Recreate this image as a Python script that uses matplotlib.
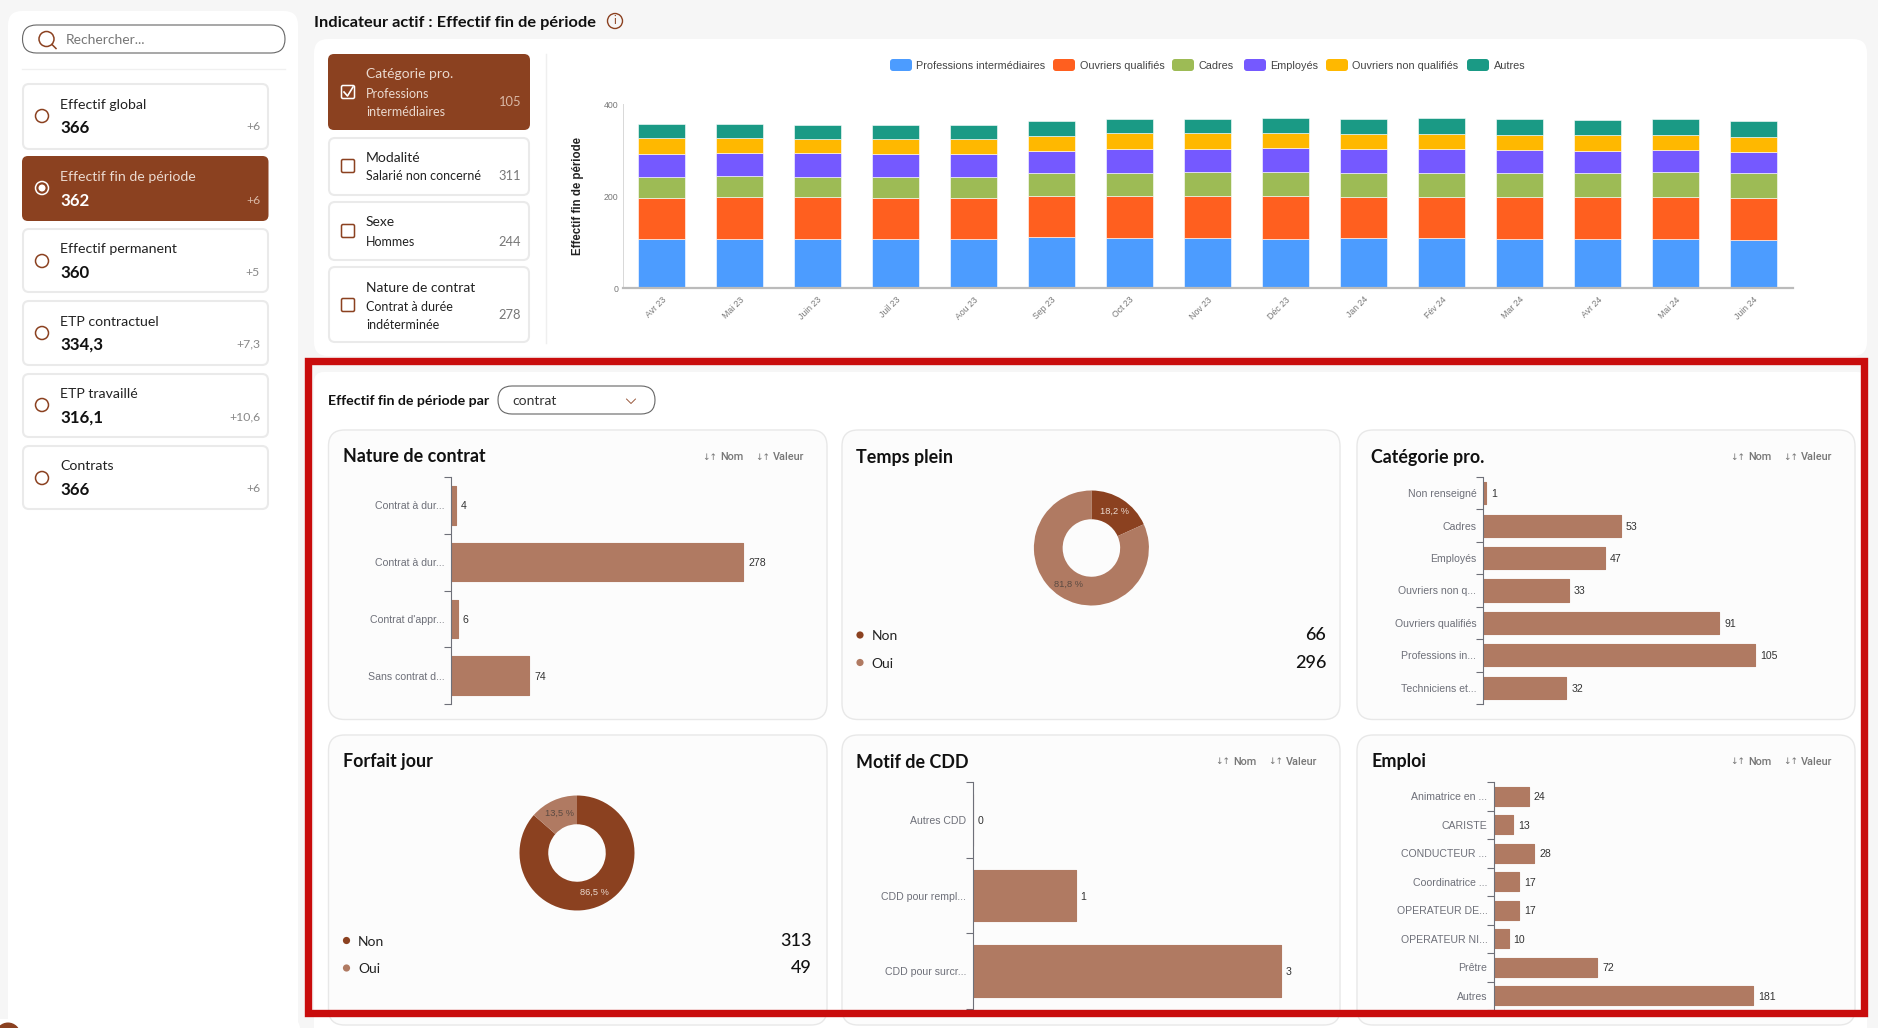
import matplotlib
matplotlib.use("Agg")
import matplotlib.pyplot as plt
from matplotlib.patches import FancyBboxPatch, Circle, Rectangle

W, H = 1878, 1028

BROWN = "#8B4120"
LIGHT_BROWN = "#B07A62"
RED = "#C90D0D"
GRID_TXT = "#6E7079"

# kpi list on the left
kpi_names = ["Effectif global", "Effectif fin de période", "Effectif permanent",
             "ETP contractuel", "ETP travaillé", "Contrats"]
kpi_values = ["366", "362", "360", "334,3", "316,1", "366"]
kpi_deltas = ["+6", "+6", "+5", "+7,3", "+10,6", "+6"]

# stacked chart
months = ["Avr 23", "Mai 23", "Juin 23", "Juil 23", "Aou 23", "Sep 23", "Oct 23", "Nov 23",
          "Déc 23", "Jan 24", "Fév 24", "Mar 24", "Avr 24", "Mai 24", "Juin 24"]
prof_inter = [107, 107, 107, 107, 106, 110, 108, 108, 107, 108, 108, 107, 106, 106, 105]
ouvriers_q = [89, 91, 90, 89, 89, 90, 92, 92, 93, 90, 90, 91, 92, 92, 91]
cadres = [46, 45, 45, 46, 46, 49, 51, 53, 53, 53, 53, 52, 52, 55, 53]
employes = [50, 50, 51, 50, 50, 49, 52, 50, 52, 51, 51, 51, 48, 47, 47]
ouvriers_nq = [34, 34, 32, 32, 33, 33, 33, 34, 32, 33, 33, 31, 34, 32, 33]
autres = [30, 30, 29, 30, 30, 31, 31, 30, 32, 32, 34, 35, 33, 35, 33]
stack_names = ["Professions intermédiaires", "Ouvriers qualifiés", "Cadres", "Employés",
               "Ouvriers non qualifiés", "Autres"]
stack_colors = ["#4C9CFF", "#FF5F1F", "#9DBB55", "#7559FF", "#FFB800", "#1A9A85"]

# small charts
contrat_labels = ["Contrat à dur...", "Contrat à dur...", "Contrat d'appr...", "Sans contrat d..."]
contrat_values = [4, 278, 6, 74]
categorie_labels = ["Non renseigné", "Cadres", "Employés", "Ouvriers non q...",
                    "Ouvriers qualifiés", "Professions in...", "Techniciens et..."]
categorie_values = [1, 53, 47, 33, 91, 105, 32]
cdd_labels = ["Autres CDD", "CDD pour rempl...", "CDD pour surcr..."]
cdd_values = [0, 1, 3]
emploi_labels = ["Animatrice en ...", "CARISTE", "CONDUCTEUR ...", "Coordinatrice ...",
                 "OPERATEUR DE...", "OPERATEUR NI...", "Prêtre", "Autres"]
emploi_values = [24, 13, 28, 17, 17, 10, 72, 181]
temps_plein = [66, 296]
forfait_jour = [313, 49]

fig = plt.figure(figsize=(W / 100, H / 100), dpi=100, facecolor="#F6F6F6")
plt.rcParams["font.family"] = ["Lato", "DejaVu Sans"]

bg = fig.add_axes([0, 0, 1, 1], zorder=0)
bg.set_xlim(0, W)
bg.set_ylim(H, 0)
bg.axis("off")

top = fig.add_axes([0, 0, 1, 1], zorder=20)
top.set_xlim(0, W)
top.set_ylim(H, 0)
top.axis("off")
top.patch.set_alpha(0)


def box(x0, y0, x1, y1, fc="white", ec="none", lw=0, r=8, ax=bg):
    p = FancyBboxPatch((x0 + r, y0 + r), x1 - x0 - 2 * r, y1 - y0 - 2 * r,
                       boxstyle=f"round,pad={r},rounding_size={r}", fc=fc, ec=ec, lw=lw)
    ax.add_patch(p)


def child_axes(x0, y0, x1, y1):
    a = fig.add_axes([x0 / W, 1 - y1 / H, (x1 - x0) / W, (y1 - y0) / H], zorder=5)
    a.patch.set_alpha(0)
    return a


def txt(x, y, s, size=10, color="#222222", weight="normal", ha="left", family=None, ax=bg):
    ax.text(x, y, s, fontsize=size, color=color, fontweight=weight, ha=ha, va="center",
            family=family or ["Lato", "DejaVu Sans"])


# left panel
box(8, 11, 298, 1040, r=14)
box(-20, 1019, 300, 1060, r=10)
box(22.5, 25, 285, 53, fc="white", ec="#666666", lw=0.8, r=14)
bg.add_patch(Circle((46.5, 39), 7.5, fc="none", ec=BROWN, lw=1.1))
bg.plot([52, 56], [44.5, 48.5], color=BROWN, lw=1.1)
txt(65.5, 40.5, "Rechercher...", 10, "#777777")
bg.plot([22, 285], [68.5, 68.5], color="#F0F0F0", lw=1)
bg.add_patch(Circle((8, 1035), 12.5, fc=BROWN, ec="none"))

kpi_tops = [84, 156, 229, 301, 374, 446]
kpi_bottoms = [149, 221, 292, 365, 437, 509]
kpi_label_y = [105, 177, 249, 322, 394, 466]
kpi_value_y = [128, 201, 273, 345, 418, 490]
kpi_radio_y = [116, 188, 261, 333, 405, 478]
for i, name in enumerate(kpi_names):
    active = i == 1
    if active:
        box(22, kpi_tops[i], 268.5, kpi_bottoms[i], fc=BROWN, r=6)
    else:
        box(23, kpi_tops[i], 268, kpi_bottoms[i], fc="white", ec="#EAEAEA", lw=1.5, r=6)
    c1 = "#EAD9CF" if active else "#222222"
    c2 = "white" if active else "#111111"
    c3 = "#D9B8A6" if active else "#888888"
    txt(60, kpi_label_y[i], name, 10.2, c1)
    txt(60, kpi_value_y[i], kpi_values[i], 12.2, c2, "bold")
    txt(260, kpi_value_y[i] - 1, kpi_deltas[i], 8.8, c3, ha="right")
    bg.add_patch(Circle((42, kpi_radio_y[i]), 6.5, fc="none", ec="white" if active else BROWN, lw=1.1))
    if active:
        bg.add_patch(Circle((42, kpi_radio_y[i]), 3.5, fc="white", ec="none"))

# header + top panel
txt(314, 22.5, "Indicateur actif : Effectif fin de période", 11.8, "#111111", "bold")
bg.add_patch(Circle((615, 21), 7.5, fc="none", ec=BROWN, lw=1))
txt(615, 21, "i", 8, BROWN, ha="center")
box(314, 39, 1867, 356, r=14)
bg.plot([546, 546], [54, 343], color="#EFEFEF", lw=1)

filter_tops = [54, 138, 202, 267]
filter_bottoms = [130, 195, 260, 342]
filter_check_y = [92, 166, 231, 305]
filter_title = ["Catégorie pro.", "Modalité", "Sexe", "Nature de contrat"]
filter_title_y = [74.5, 157.5, 222.5, 287.5]
filter_sub = [["Professions", "intermédiaires"], ["Salarié non concerné"], ["Hommes"],
              ["Contrat à durée", "indéterminée"]]
filter_sub_y = [[94, 112], [176], [242], [307, 325]]
filter_val = ["105", "311", "244", "278"]
filter_val_y = [102, 176, 242, 315]
for i in range(4):
    active = i == 0
    if active:
        box(328, filter_tops[i], 530, filter_bottoms[i], fc=BROWN, r=6)
    else:
        box(329, filter_tops[i], 529, filter_bottoms[i], fc="white", ec="#EAEAEA", lw=1.5, r=6)
    c1 = "#EAD9CF" if active else "#222222"
    c2 = "#D9B8A6" if active else "#777777"
    txt(366, filter_title_y[i], filter_title[i], 10, c1)
    for s, yy in zip(filter_sub[i], filter_sub_y[i]):
        txt(366, yy, s, 9, c1)
    txt(521, filter_val_y[i], filter_val[i], 9.3, c2, ha="right")
    cy = filter_check_y[i]
    box(341.5, cy - 6.5, 354.5, cy + 6.5, fc="none", ec="white" if active else BROWN, lw=1.1, r=1.5)
    if active:
        bg.plot([344, 347.5, 353], [cy, cy + 4, cy - 5], color="white", lw=1.2)

# stacked bars
ax = child_axes(622.5, 104, 1792.5, 288)
x = list(range(len(months)))
bottom = [0] * len(months)
series = [prof_inter, ouvriers_q, cadres, employes, ouvriers_nq, autres]
for vals, col in zip(series, stack_colors):
    ax.bar(x, vals, width=0.6, bottom=bottom, color=col, edgecolor="white", linewidth=0.4)
    bottom = [b + v for b, v in zip(bottom, vals)]
ax.set_xlim(-0.5, 14.5)
ax.set_ylim(0, 400)
ax.set_yticks([0, 200, 400])
ax.set_xticks(x)
ax.set_xticklabels(months, rotation=45, ha="right", rotation_mode="anchor", fontsize=6.3,
                   color="#777777", family="Liberation Sans")
ax.tick_params(axis="y", length=0, labelsize=6.3, labelcolor="#777777", pad=3)
ax.tick_params(axis="x", length=0, pad=5)
for t in ax.get_yticklabels():
    t.set_family("Liberation Sans")
for s in ["top", "right"]:
    ax.spines[s].set_visible(False)
ax.spines["left"].set_color("#D8D8D8")
ax.spines["left"].set_linewidth(0.7)
ax.spines["bottom"].set_color("#BBBBBB")
ax.spines["bottom"].set_linewidth(1.6)
bg.text(578, 196, "Effectif fin de période", rotation=90, fontsize=8.3, fontweight="bold", color="#222222",
        ha="center", va="center", family="Liberation Sans")

# legend of the stacked chart, placed by hand like the original
legend_swatch_x = [890, 1053, 1172, 1244, 1326, 1467]
for name, col, lx in zip(stack_names, stack_colors, legend_swatch_x):
    box(lx, 59, lx + 22, 71, fc=col, r=3)
    txt(lx + 26.5, 66, name, 7.8, "#444444", family="Liberation Sans")

# lower panel
box(314, 372, 1867, 1060, r=10)
txt(328.5, 401, "Effectif fin de période par", 10.2, "#111111", "bold")
box(498, 386, 655, 414, fc="white", ec="#666666", lw=0.8, r=14)
txt(512.5, 401, "contrat", 10, "#333333")
bg.plot([626.5, 631, 635.5], [399, 403.5, 399], color=BROWN, lw=0.6)

card_x = [(328.5, 827), (842, 1340), (1357, 1855)]
card_y = [(430, 719.5), (735, 1025)]
for cy0, cy1 in card_y:
    for cx0, cx1 in card_x:
        box(cx0, cy0, cx1, cy1, fc="#FCFCFC", ec="#E8E8E8", lw=1, r=16)

card_titles = [["Nature de contrat", "Temps plein", "Catégorie pro."],
               ["Forfait jour", "Motif de CDD", "Emploi"]]
title_y = [457, 762]
has_sort = [[True, False, True], [False, True, True]]
for r in range(2):
    for c in range(3):
        cx0, cx1 = card_x[c]
        txt(cx0 + 14.3, title_y[r], card_titles[r][c], 12.9, "#111111", "bold")
        if has_sort[r][c]:
            for off, s in [(125, "Nom"), (72, "Valeur")]:
                txt(cx1 - off, title_y[r], "↓↑", 6.5, "#777777", family=["DejaVu Sans"])
                txt(cx1 - off + 18, title_y[r], s, 7.8, "#777777", "medium", family="Roboto")


def hbars(px, labels, values, xmax):
    x0, y0, x1, y1 = px
    a = child_axes(x0, y0, x1, y1)
    n = len(values)
    ys = list(range(n))
    a.barh(ys, values, height=0.68, color=LIGHT_BROWN, edgecolor=LIGHT_BROWN, linewidth=0.8, joinstyle="round")
    a.set_xlim(0, xmax)
    a.set_ylim(n - 0.5, -0.5)
    a.set_yticks([i - 0.5 for i in range(n + 1)])
    a.set_yticks(ys, minor=True)
    a.set_yticklabels([])
    a.set_yticklabels(labels, minor=True, fontsize=7.6, color=GRID_TXT, family="Liberation Sans",
                      va="center_baseline")
    a.tick_params(axis="y", which="major", length=5, width=0.8, color="#6E7079")
    a.tick_params(axis="y", which="minor", length=0, pad=5)
    a.set_xticks([])
    for s in ["top", "right", "bottom"]:
        a.spines[s].set_visible(False)
    a.spines["left"].set_color("#6E7079")
    a.spines["left"].set_linewidth(0.8)
    for i, v in enumerate(values):
        a.annotate(str(v), (v, i), xytext=(5, 0), textcoords="offset pixels", fontsize=7.6, color="#333333",
                   va="center_baseline", family="Liberation Sans", annotation_clip=False)


hbars((451.4, 477, 766.4, 704), contrat_labels, contrat_values, 300)
hbars((1483.2, 477, 1794.2, 704), categorie_labels, categorie_values, 120)
hbars((973, 782, 1332, 1009), cdd_labels, cdd_values, 3.5)
hbars((1494.4, 782, 1780.4, 1010), emploi_labels, emploi_values, 200)


def donut(cx, cy, values, y_rows, left, right):
    a = child_axes(cx - 57.5, cy - 57.5, cx + 57.5, cy + 57.5)
    cols = [BROWN, LIGHT_BROWN]
    _, _, autotexts = a.pie(values, colors=cols, startangle=90, counterclock=False, radius=1,
                            wedgeprops={"width": 0.5}, pctdistance=0.75,
                            autopct=lambda p: f"{p:.1f} %".replace(".", ","),
                            textprops={"fontsize": 6.7, "family": "Liberation Sans"})
    autotexts[0].set_color("#EAD9CF")
    autotexts[1].set_color("#5A4A42")
    a.set_xlim(-1, 1)
    a.set_ylim(-1, 1)
    for v, col, name, yy in zip(values, cols, ["Non", "Oui"], y_rows):
        bg.add_patch(Circle((left + 3.5, yy), 3.6, fc=col, ec="none"))
        txt(left + 15, yy + 1, name, 10, "#222222")
        txt(right, yy, str(v), 13, "#111111", "medium", ha="right")


donut(1091.4, 548, temps_plein, [635, 662.5], 856.5, 1326)
donut(577, 853, forfait_jour, [940.5, 968], 343, 812)

# red highlight frame on top of everything
top.add_patch(Rectangle((308.2, 360.5), 1555.3, 652.5, fc="none", ec=RED, lw=5.3))

fig.savefig("out.png", dpi=100)
